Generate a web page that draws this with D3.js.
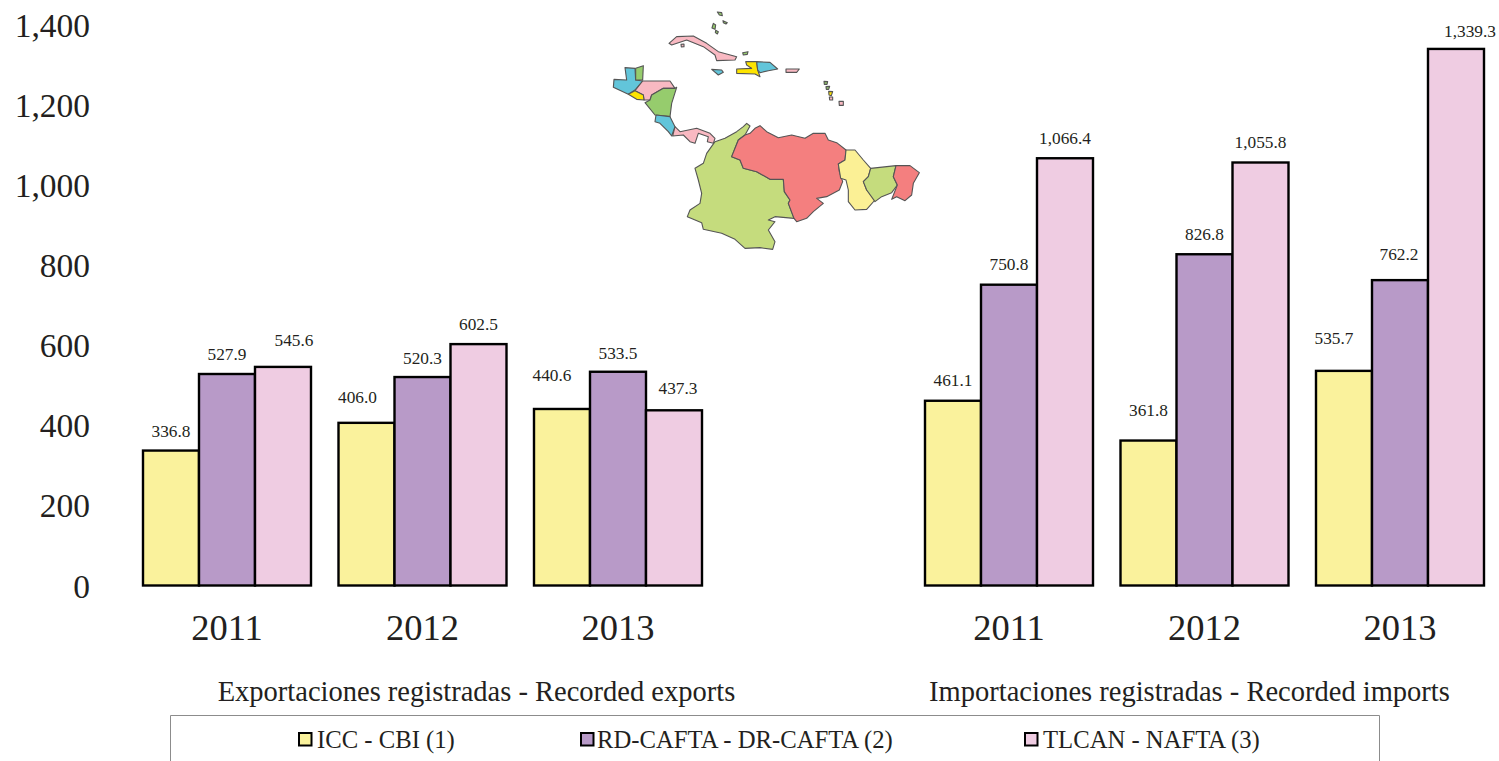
<!DOCTYPE html>
<html><head><meta charset="utf-8">
<script src="https://cdn.jsdelivr.net/npm/d3@7"></script>
<style>html,body{margin:0;padding:0;background:#fff;overflow:hidden}svg{display:block}text{font-family:"Liberation Serif",serif;fill:#231f20}</style>
</head><body><svg id="c" width="1499" height="761"></svg>
<script>
const slots = ["e2011","e2012","e2013","gap","i2011","i2012","i2013"];
const years = ["2011","2012","2013","2011","2012","2013"];
const groups = ["e2011","e2012","e2013","i2011","i2012","i2013"];
const seriesNames = ["ICC - CBI (1)","RD-CAFTA - DR-CAFTA (2)","TLCAN - NAFTA (3)"];
const cbi = [336.8,406.0,440.6,461.1,361.8,535.7];
const cafta = [527.9,520.3,533.5,750.8,826.8,762.2];
const nafta = [545.6,602.5,437.3,1066.4,1055.8,1339.3];
const yTicks = [0,200,400,600,800,1000,1200,1400];
const sectionTitles = ["Exportaciones registradas - Recorded exports","Importaciones registradas - Recorded imports"];
const colors = ["#faf29c","#b89ac8","#efcce2"];
// label nudges (layout only), per series then group
const nudgeX = [[0,-9,-10,0,0,-10],[0,0,0,0,0,-1],[11,0,4,0,0,14]];
const nudgeY = [[-19,-25,-33,-20,-30,-32],[-20,-19,-18,-20,-20,-26],[-26,-20,-22,-20,-20,-17]];

const svg = d3.select("#c");
const x0 = d3.scaleBand().domain(slots).range([129.25,1497.75]).paddingInner(27.5/195.5).paddingOuter(13.75/195.5);
const x1 = d3.scaleBand().domain([0,1,2]).range([0,x0.bandwidth()]);
const y = d3.scaleLinear().domain([0,1400]).range([585.5,24.6]);

// y axis labels
const yAxis = svg.append("g").attr("transform","translate(90,0)")
  .call(d3.axisLeft(y).tickValues(yTicks).tickSize(0).tickPadding(0).tickFormat(d3.format(",")));
yAxis.select(".domain").remove();
yAxis.selectAll("text").attr("font-size",33.5).attr("dy","0.36em").attr("transform","translate(0,-0.5)")
  .style("font-family",'"Liberation Serif",serif');

// x axis labels
svg.append("g").selectAll("text").data(groups).join("text")
  .attr("x",g=>x0(g)+x0.bandwidth()/2).attr("y",640).attr("text-anchor","middle").attr("font-size",36.5)
  .text((g,i)=>years[i]);

// bars
[cbi,cafta,nafta].forEach((vals,s)=>{
  svg.append("g").selectAll("rect").data(vals).join("rect")
    .attr("x",(d,i)=>x0(groups[i])+x1(s)).attr("width",x1.bandwidth())
    .attr("y",d=>y(d)).attr("height",d=>y(0)-y(d))
    .attr("fill",colors[s]).attr("stroke","#000").attr("stroke-width",2.4);
});
[cbi,cafta,nafta].forEach((vals,s)=>{
  svg.append("g").selectAll("text").data(vals).join("text")
    .attr("x",(d,i)=>x0(groups[i])+x1(s)+x1.bandwidth()/2+nudgeX[s][i])
    .attr("y",(d,i)=>y(d)+nudgeY[s][i]+5.5)
    .attr("text-anchor","middle").attr("font-size",17.3)
    .text(d=>d3.format(",.1f")(d));
});

// section titles
svg.selectAll(".sec").data(sectionTitles).join("text").attr("class","sec")
  .attr("x",(d,i)=>[476.5,1189.5][i]).attr("y",701).attr("text-anchor","middle").attr("font-size",28.5)
  .text(d=>d);

// legend
svg.append("path").attr("d","M170.5,761V715.5H1379.5V761").attr("fill","none").attr("stroke","#8c8c8c").attr("stroke-width",1);
const lg = svg.selectAll(".lg").data(seriesNames).join("g").attr("class","lg")
  .attr("transform",(d,i)=>`translate(${[299,581,1025][i]},733)`);
lg.append("rect").attr("width",12.5).attr("height",12.5).attr("fill",(d,i)=>colors[i]).attr("stroke","#000").attr("stroke-width",2);
lg.append("text").attr("x",(d,i)=>[18,16,18][i]).attr("y",14.5).attr("font-size",24.7).text(d=>d);

// map decoration, traced outlines
const shapeGreen="#c5dc7d",shapeRed="#f47f7f",shapeYellow="#fbf095",shapeBlue="#62c5da",shapeLeaf="#96cc6d",shapePink="#f9b9c2",shapeGold="#fde400";
const mapShapes=[
 [shapeGreen,[[440,370],[450,378],[435,405],[415,420],[395,470],[420,480],[430,505],[470,515],[510,538],[550,538],[553,575],[570,600],[565,610],[582,655],[525,650],[505,660],[525,665],[505,690],[525,725],[518,748],[480,743],[435,745],[405,718],[365,700],[310,688],[305,668],[262,650],[270,630],[300,610],[305,580],[295,540],[285,505],[310,490],[320,460],[345,425],[375,415],[410,395],[430,380]]],
 [shapeRed,[[480,377],[500,395],[535,413],[575,405],[615,415],[640,400],[675,400],[685,420],[710,428],[738,450],[735,480],[715,492],[718,515],[728,545],[718,570],[680,590],[650,595],[670,610],[640,635],[620,655],[590,665],[582,655],[565,610],[570,600],[553,575],[550,538],[510,538],[470,515],[430,505],[420,480],[395,470],[415,420],[435,405],[450,400],[465,385]]],
 [shapeYellow,[[738,450],[765,450],[790,480],[812,505],[805,530],[790,545],[800,570],[825,600],[800,628],[765,630],[745,605],[745,570],[738,540],[722,535],[715,492],[735,480]]],
 [shapeGreen,[[812,505],[888,497],[880,530],[892,555],[875,578],[845,590],[825,605],[800,570],[790,545],[805,530]]],
 [shapeRed,[[888,497],[930,497],[958,518],[940,550],[935,585],[915,602],[890,590],[875,598],[892,555],[880,530]]],
 [shapeBlue,[[75,203],[105,205],[107,240],[128,243],[105,270],[85,283],[40,262],[42,238],[80,240]]],
 [shapeLeaf,[[107,205],[130,197],[128,240],[107,240]]],
 [shapePink,[[128,243],[210,243],[225,265],[190,265],[155,285],[150,300],[132,300],[130,285],[105,272]]],
 [shapeGold,[[85,283],[105,272],[130,285],[132,300],[110,298]]],
 [shapeLeaf,[[230,262],[225,265],[190,265],[155,285],[150,300],[135,308],[165,345],[210,350],[215,310]]],
 [shapeBlue,[[168,345],[210,350],[225,380],[215,408],[205,395],[180,370],[165,365]]],
 [shapePink,[[225,380],[240,395],[290,385],[330,400],[345,415],[340,430],[322,425],[325,410],[295,400],[285,430],[270,425],[250,405],[218,408]]],
 [shapePink,[[207,130],[230,110],[280,108],[320,130],[355,155],[410,170],[405,180],[350,182],[345,165],[310,140],[260,120],[215,135]]],
 [shapeGold,[[437,185],[470,185],[473,210],[480,230],[465,222],[410,220],[410,207],[455,205],[440,195]]],
 [shapeBlue,[[470,185],[510,187],[533,207],[505,212],[480,218],[473,210]]],
 [shapeBlue,[[335,208],[365,210],[370,217],[355,225]]],
 [shapePink,[[558,207],[598,207],[590,217],[558,217]]],
 [shapeLeaf,[[352,36],[365,38],[367,47],[358,45]]],
 [shapeLeaf,[[340,70],[347,75],[345,88],[336,84]]],
 [shapeLeaf,[[347,91],[355,95],[352,102],[346,98]]],
 [shapeLeaf,[[369,62],[382,68],[378,72],[370,68]]],
 [shapeLeaf,[[428,158],[444,155],[442,163],[430,165]]],
 [shapePink,[[243,133],[252,132],[252,140],[244,141]]],
 [shapeLeaf,[[672,244],[683,245],[681,253],[673,253]]],
 [shapeLeaf,[[678,260],[689,259],[686,268],[679,268]]],
 [shapeGold,[[686,274],[698,275],[694,287],[687,285]]],
 [shapePink,[[688,291],[698,291],[698,300],[689,300]]],
 [shapePink,[[717,304],[730,304],[730,316],[718,316]]]
];
const mapLine=d3.line().x(p=>600+p[0]/3).y(p=>p[1]/3);
svg.append("g").selectAll("path").data(mapShapes).join("path")
  .attr("d",d=>mapLine(d[1])+"Z").attr("fill",d=>d[0]).attr("stroke","#555").attr("stroke-width",1.1).attr("stroke-linejoin","round");
</script></body></html>
